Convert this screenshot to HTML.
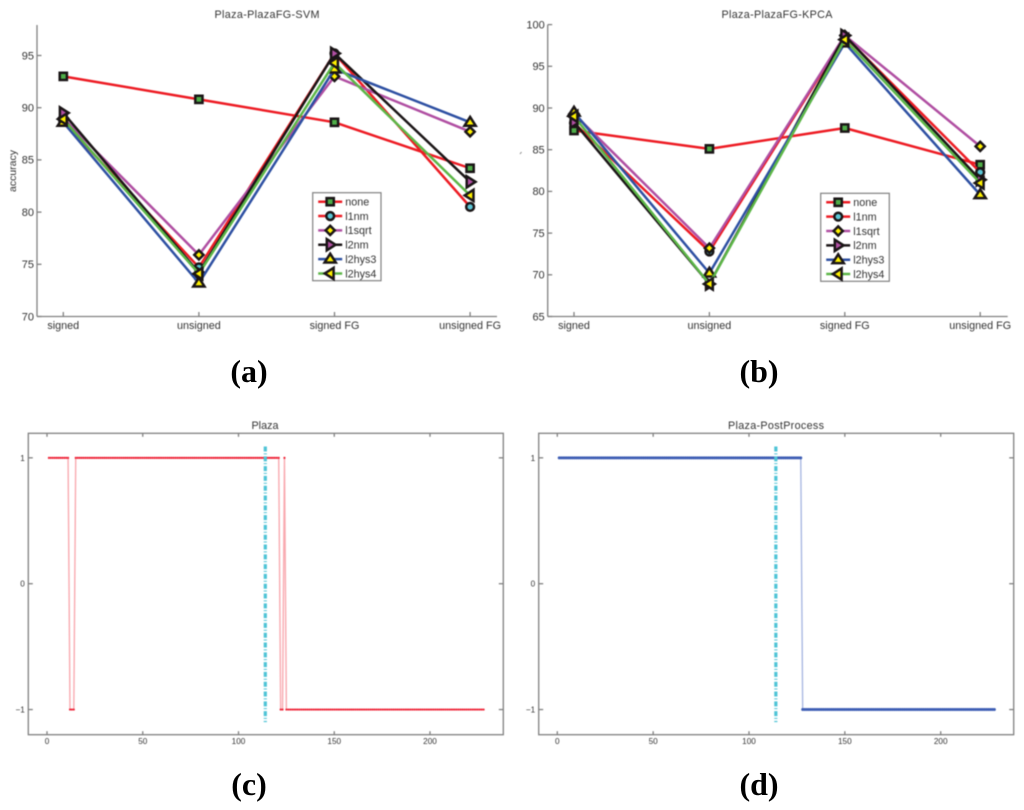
<!DOCTYPE html>
<html lang="en">
<head>
<meta charset="utf-8">
<title>Plaza accuracy and classification figure</title>
<style>
html,body{margin:0;padding:0;background:#fff;width:1024px;height:810px;overflow:hidden}
svg{display:block}
#panel-a,#panel-b,#panel-c,#panel-d{filter:blur(0.4px)}
text{font-family:"Liberation Sans",sans-serif;fill:#333}
.panel-label{font-family:"Liberation Serif",serif;font-weight:bold;font-size:32px;fill:#000;text-anchor:middle}
.title{font-size:10.8px;text-anchor:middle}
</style>
</head>
<body>
<svg id="figure" xmlns="http://www.w3.org/2000/svg" width="1024" height="810" viewBox="0 0 1024 810">
  <rect x="0" y="0" width="1024" height="810" fill="#fff"/>
  <g id="panel-a">
    <text class="title" x="267" y="18" textLength="105" lengthAdjust="spacing">Plaza-PlazaFG-SVM</text>
    <text x="0" y="0" font-size="10.5" text-anchor="middle" transform="translate(16,171) rotate(-90)">accuracy</text>
  </g>
  <g id="panel-b">
    <text class="title" x="777" y="18" textLength="111" lengthAdjust="spacing">Plaza-PlazaFG-KPCA</text>
    <path d="M520 154 L521.5 152" stroke="#888" stroke-width="1" fill="none"/>
  </g>
  <g id="panel-c">
    <text class="title" x="265" y="429">Plaza</text>
  </g>
  <g id="panel-d">
    <text class="title" x="776" y="429" textLength="96" lengthAdjust="spacing">Plaza-PostProcess</text>
  </g>
  <text class="panel-label" x="249" y="382">(a)</text>
  <text class="panel-label" x="759" y="382">(b)</text>
  <text class="panel-label" x="249" y="795">(c)</text>
  <text class="panel-label" x="759" y="795">(d)</text>
</svg>
<script>
const categories = ['signed', 'unsigned', 'signed FG', 'unsigned FG'];
const seriesNames = ['none', 'l1nm', 'l1sqrt', 'l2nm', 'l2hys3', 'l2hys4'];
const svmTicks = [70, 75, 80, 85, 90, 95];
const kpcaTicks = [65, 70, 75, 80, 85, 90, 95, 100];

const svmNone = [93.0, 90.8, 88.6, 84.2];
const svmL1nm = [88.7, 74.7, 95.2, 80.5];
const svmL1sqrt = [89.0, 75.9, 93.0, 87.7];
const svmL2nm = [89.5, 74.2, 95.2, 82.9];
const svmL2hys3 = [88.6, 73.2, 93.7, 88.6];
const svmL2hys4 = [88.9, 74.1, 94.3, 81.6];

const kpcaNone = [87.3, 85.1, 87.6, 83.2];
const kpcaL1nm = [88.2, 72.8, 98.6, 82.3];
const kpcaL1sqrt = [89.3, 73.2, 98.7, 85.4];
const kpcaL2nm = [88.3, 68.9, 98.7, 81.4];
const kpcaL2hys3 = [89.5, 70.2, 97.8, 79.6];
const kpcaL2hys4 = [89.0, 68.9, 98.2, 81.0];

const frameXTicks = [0, 50, 100, 150, 200];
const frameYTicks = [-1, 0, 1];
const boundaryFrame = [114];

const plazaLabels = [
  1,1,1,1,1,1,1,1,1,1,1,
  -1,-1,-1,
  1,1,1,1,1,1,1,1,1,1, 1,1,1,1,1,1,1,1,1,1, 1,1,1,1,1,1,1,1,1,1, 1,1,1,1,1,1,1,1,1,1, 1,1,1,1,1,1,1,1,1,1,
  1,1,1,1,1,1,1,1,1,1, 1,1,1,1,1,1,1,1,1,1, 1,1,1,1,1,1,1,1,1,1, 1,1,1,1,1,1,1,1,1,1, 1,1,1,1,1,1,1,1,1,1, 1,1,1,1,1,1,1,
  -1,-1,
  1,
  -1,-1,-1,-1,-1,-1,-1,-1,-1,-1, -1,-1,-1,-1,-1,-1,-1,-1,-1,-1, -1,-1,-1,-1,-1,-1,-1,-1,-1,-1, -1,-1,-1,-1,-1,-1,-1,-1,-1,-1, -1,-1,-1,-1,-1,-1,-1,-1,-1,-1,
  -1,-1,-1,-1,-1,-1,-1,-1,-1,-1, -1,-1,-1,-1,-1,-1,-1,-1,-1,-1, -1,-1,-1,-1,-1,-1,-1,-1,-1,-1, -1,-1,-1,-1,-1,-1,-1,-1,-1,-1, -1,-1,-1,-1,-1,-1,-1,-1,-1,-1,
  -1,-1,-1,-1
];
const postProcessLabels = [
  1,1,1,1,1,1,1,1,1,1, 1,1,1,1,1,1,1,1,1,1, 1,1,1,1,1,1,1,1,1,1, 1,1,1,1,1,1,1,1,1,1, 1,1,1,1,1,1,1,1,1,1,
  1,1,1,1,1,1,1,1,1,1, 1,1,1,1,1,1,1,1,1,1, 1,1,1,1,1,1,1,1,1,1, 1,1,1,1,1,1,1,1,1,1, 1,1,1,1,1,1,1,1,1,1,
  1,1,1,1,1,1,1,1,1,1, 1,1,1,1,1,1,1,1,1,1, 1,1,1,1,1,1,1,
  -1,-1,-1,-1,-1,-1,-1,-1,-1,-1, -1,-1,-1,-1,-1,-1,-1,-1,-1,-1, -1,-1,-1,-1,-1,-1,-1,-1,-1,-1, -1,-1,-1,-1,-1,-1,-1,-1,-1,-1, -1,-1,-1,-1,-1,-1,-1,-1,-1,-1,
  -1,-1,-1,-1,-1,-1,-1,-1,-1,-1, -1,-1,-1,-1,-1,-1,-1,-1,-1,-1, -1,-1,-1,-1,-1,-1,-1,-1,-1,-1, -1,-1,-1,-1,-1,-1,-1,-1,-1,-1, -1,-1,-1,-1,-1,-1,-1,-1,-1,-1,
  -1
];

const NS = 'http://www.w3.org/2000/svg';
const AXIS = '#808080';
const RED = '#ed1c24', PURPLE = '#b04fa2', BLACK = '#1a1516', BLUE = '#2e50a2', GREEN = '#5cb647';
const GREENFILL = '#4fae48', CYAN = '#5cc6d6', YELLOW = '#fff200';
const lineColors = [RED, RED, PURPLE, BLACK, BLUE, GREEN];
const markerKinds = ['square', 'circle', 'diamond', 'right', 'up', 'left'];

function make(tag, attrs, parent) {
  const el = document.createElementNS(NS, tag);
  for (const k in attrs) el.setAttribute(k, attrs[k]);
  parent.appendChild(el);
  return el;
}

function label(parent, x, y, str, size, anchor, name) {
  const el = make('text', {x: x, y: y, 'font-size': size, 'text-anchor': anchor}, parent);
  el.textContent = str;
  
  
  return el;
}

function segment(parent, x1, y1, x2, y2, name) {
  const el = make('line', {x1: x1, y1: y1, x2: x2, y2: y2, stroke: AXIS, 'stroke-width': 1.3}, parent);
  
  
  return el;
}

function marker(parent, kind, cx, cy, name) {
  const common = {stroke: BLACK, 'stroke-width': 2.5, 'stroke-linejoin': 'miter'};
  let el;
  if (kind === 'square') {
    el = make('rect', Object.assign({x: cx - 3.6, y: cy - 3.6, width: 7.2, height: 7.2, fill: GREENFILL}, common), parent);
  } else if (kind === 'circle') {
    el = make('circle', Object.assign({cx: cx, cy: cy, r: 3.9, fill: CYAN}, common), parent);
  } else {
    let pts;
    let fill = YELLOW;
    if (kind === 'diamond') pts = [[0, -4.6], [4.6, 0], [0, 4.6], [-4.6, 0]];
    if (kind === 'up') pts = [[0, -5.4], [5.6, 3.4], [-5.6, 3.4]];
    if (kind === 'left') pts = [[-5.4, 0], [3.4, -5.6], [3.4, 5.6]];
    if (kind === 'right') { pts = [[5.4, 0], [-3.4, -5.6], [-3.4, 5.6]]; fill = PURPLE; }
    el = make('polygon', Object.assign({
      points: pts.map(function (p) { return (cx + p[0]) + ',' + (cy + p[1]); }).join(' '),
      fill: fill
    }, common), parent);
  }
  
  
  return el;
}

function drawAccuracy(panelId, prefix, box, yMin, unit, cat0, catStep, ticks, allSeries, legend) {
  const g = document.getElementById(panelId);
  const xScale = function (i) { return cat0 + i * catStep; };
  const yScale = function (v) { return box.bottom - (v - yMin) * unit; };

  segment(g, box.left, box.top, box.left, box.bottom, prefix + '-y-axis');
  segment(g, box.left, box.bottom, box.right, box.bottom, prefix + '-x-axis');
  ticks.forEach(function (t) {
    const y = yScale(t);
    segment(g, box.left, y, box.left + 4.5, y, prefix + '-y-tick');
    label(g, box.left - 3, y + 3.8, String(t), 11, 'end', prefix + '-y-tick-label');
  });
  categories.forEach(function (c, i) {
    const x = xScale(i);
    segment(g, x, box.bottom, x, box.bottom - 4.5, prefix + '-x-tick');
    label(g, x, box.bottom + 12.5, c, 10.8, 'middle', prefix + '-x-tick-label');
  });

  allSeries.forEach(function (vals, s) {
    const sg = make('g', {}, g);
    
    
    const path = make('polyline', {
      points: vals.map(function (v, i) { return xScale(i) + ',' + yScale(v); }).join(' '),
      fill: 'none', stroke: lineColors[s], 'stroke-width': 2.5, 'stroke-linejoin': 'round'
    }, sg);
    
    
    vals.forEach(function (v, i) {
      marker(sg, markerKinds[s], xScale(i), yScale(v), prefix + '-point-' + seriesNames[s]);
    });
  });

  const lg = make('g', {}, g);
  
  
  const frame = make('rect', {x: legend.x, y: legend.y, width: legend.w, height: legend.h, fill: '#fff', stroke: '#808080', 'stroke-width': 1.2}, lg);
  
  
  seriesNames.forEach(function (n, s) {
    const y = legend.y + 9 + s * 14.35;
    const entry = make('g', {}, lg);
    
    
    const swatch = make('line', {x1: legend.x + 5.5, y1: y, x2: legend.x + 29.5, y2: y, stroke: lineColors[s], 'stroke-width': 2.5}, entry);
    
    
    marker(entry, markerKinds[s], legend.x + 17.5, y, prefix + '-legend-marker');
    label(entry, legend.x + 32.5, y + 3.8, n, 10.8, 'start', prefix + '-legend-label');
  });
}

function drawBinary(panelId, prefix, box, x0, xUnit, y0, yUnit, labels, dotColor, lineColor, dotR) {
  const g = document.getElementById(panelId);
  const xScale = function (v) { return x0 + v * xUnit; };
  const yScale = function (v) { return y0 - v * yUnit; };

  const frame = make('rect', {x: box.left, y: box.top, width: box.right - box.left, height: box.bottom - box.top, fill: 'none', stroke: AXIS, 'stroke-width': 1.3}, g);
  
  

  frameXTicks.forEach(function (t) {
    const x = xScale(t);
    segment(g, x, box.bottom, x, box.bottom - 3.5, prefix + '-x-tick');
    segment(g, x, box.top, x, box.top + 3.5, prefix + '-x-tick-top');
    label(g, x, box.bottom + 9.5, String(t), 8.2, 'middle', prefix + '-x-tick-label');
  });
  frameYTicks.forEach(function (t) {
    const y = yScale(t);
    segment(g, box.left, y, box.left + 4.5, y, prefix + '-y-tick');
    segment(g, box.right, y, box.right - 4.5, y, prefix + '-y-tick-right');
    label(g, box.left - 3.5, y + 2.9, t < 0 ? '\u2212' + Math.abs(t) : String(t), 8.2, 'end', prefix + '-y-tick-label');
  });

  const path = make('polyline', {
    points: labels.map(function (v, i) { return xScale(i + 1) + ',' + yScale(v); }).join(' '),
    fill: 'none', stroke: lineColor, 'stroke-width': 1.4, 'stroke-linejoin': 'round'
  }, g);
  
  

  const dots = make('g', {fill: dotColor}, g);
  
  
  labels.forEach(function (v, i) {
    const c = make('circle', {cx: xScale(i + 1), cy: yScale(v), r: dotR}, dots);
    
    
  });

  boundaryFrame.forEach(function (b) {
    const v = make('line', {
      x1: xScale(b), y1: yScale(1.09), x2: xScale(b), y2: yScale(-1.1),
      stroke: '#4fc4d6', 'stroke-width': 3.2, 'stroke-dasharray': '5 1.8 1 2'
    }, g);
    
    
  });
}

drawAccuracy('panel-a', 'svm', {left: 37, right: 497, top: 25, bottom: 316.5}, 70, 10.44, 63.3, 135.6, svmTicks,
  [svmNone, svmL1nm, svmL1sqrt, svmL2nm, svmL2hys3, svmL2hys4],
  {x: 312.7, y: 192.7, w: 68.3, h: 88});
drawAccuracy('panel-b', 'kpca', {left: 547.7, right: 1007.7, top: 24.7, bottom: 316.5}, 65, 8.34, 574, 135.4, kpcaTicks,
  [kpcaNone, kpcaL1nm, kpcaL1sqrt, kpcaL2nm, kpcaL2hys3, kpcaL2hys4],
  {x: 820.7, y: 193.3, w: 68.6, h: 88});
drawBinary('panel-c', 'plaza', {left: 28.3, right: 503.3, top: 433.3, bottom: 734.7}, 47, 1.915, 583.7, 125.85,
  plazaLabels, '#ee2236', '#f9aab0', 1.1);
drawBinary('panel-d', 'postprocess', {left: 538.7, right: 1013.7, top: 433.3, bottom: 734.7}, 557.3, 1.917, 583.7, 125.85,
  postProcessLabels, '#3d5db4', '#a9b8e2', 1.5);
</script>
</body>
</html>
